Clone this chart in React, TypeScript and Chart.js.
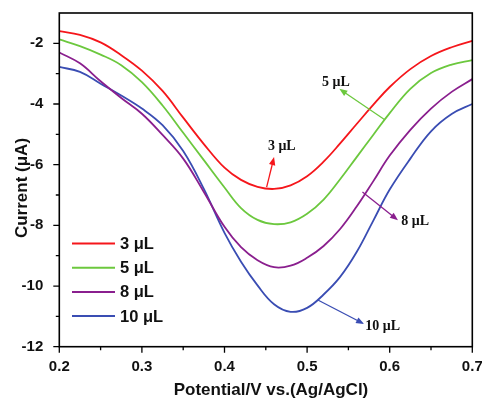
import React, { useEffect, useRef } from 'react';
import { Chart, registerables } from 'chart.js';

Chart.register(...registerables);

const potential = [0.2, 0.225, 0.25, 0.275, 0.3, 0.325, 0.35, 0.375, 0.4, 0.42, 0.44, 0.46, 0.48, 0.5, 0.52, 0.54, 0.56, 0.58, 0.6, 0.625, 0.65, 0.675, 0.7];
const current3uL = [-1.6, -1.72, -1.97, -2.39, -2.9, -3.57, -4.45, -5.32, -6.1, -6.5, -6.73, -6.8, -6.68, -6.38, -5.9, -5.3, -4.66, -4.03, -3.44, -2.85, -2.42, -2.13, -1.92];
const current5uL = [-1.87, -2.09, -2.37, -2.72, -3.28, -4.05, -4.95, -5.85, -6.75, -7.43, -7.82, -7.96, -7.9, -7.62, -7.15, -6.48, -5.75, -5.02, -4.3, -3.5, -2.98, -2.7, -2.55];
const current8uL = [-2.3, -2.66, -3.25, -3.8, -4.32, -5.02, -5.8, -6.9, -8.05, -8.72, -9.15, -9.38, -9.33, -9.07, -8.68, -8.12, -7.38, -6.55, -5.7, -4.85, -4.15, -3.6, -3.18];
const current10uL = [-2.78, -2.94, -3.33, -3.72, -4.15, -4.7, -5.55, -6.8, -8.25, -9.2, -9.98, -10.6, -10.85, -10.72, -10.28, -9.7, -8.88, -7.85, -6.82, -5.8, -4.9, -4.33, -4.0];

const seriesLabels = ['3 μL', '5 μL', '8 μL', '10 μL'];
const seriesColors = ['#f5161b', '#6cc83e', '#8a1f8e', '#3a4db3'];
const xTickValues = [0.2, 0.3, 0.4, 0.5, 0.6, 0.7];
const xMinorValues = [0.25, 0.35, 0.45, 0.55, 0.65];
const yTickValues = [-12, -10, -8, -6, -4, -2];
const yMinorValues = [-11, -9, -7, -5, -3];

// annotation arrows: [fromX, fromY, toX, toY] in data units, label anchor in data units
const annoLabels = ['3 μL', '5 μL', '8 μL', '10 μL'];
const annoFrom = [[0.451, -6.74], [0.594, -4.52], [0.567, -6.9], [0.513, -10.46]];
const annoTo = [[0.46, -5.75], [0.539, -3.5], [0.61, -7.83], [0.569, -11.25]];
const annoText = [[0.4694, -5.4], [0.535, -3.28], [0.614, -7.87], [0.5705, -11.32]];
const annoAlign = ['center', 'center', 'left', 'left'];

const SANS = '"Liberation Sans", Arial, sans-serif';
const SERIF = '"Liberation Serif", "Times New Roman", serif';

const decorPlugin = {
  id: 'decor',
  afterDraw(chart: any) {
    const { ctx, chartArea, scales } = chart;
    const { left, right, top, bottom } = chartArea;
    const xs = scales.x;
    const ys = scales.y;
    ctx.save();
    // frame
    ctx.strokeStyle = '#000';
    ctx.lineWidth = 1.6;
    ctx.strokeRect(left, top, right - left, bottom - top);
    // ticks
    ctx.lineWidth = 1.3;
    ctx.beginPath();
    xTickValues.forEach((v) => {
      const p = xs.getPixelForValue(v);
      ctx.moveTo(p, bottom);
      ctx.lineTo(p, bottom + 6);
    });
    xMinorValues.forEach((v) => {
      const p = xs.getPixelForValue(v);
      ctx.moveTo(p, bottom);
      ctx.lineTo(p, bottom + 3.5);
    });
    yTickValues.forEach((v) => {
      const p = ys.getPixelForValue(v);
      ctx.moveTo(left, p);
      ctx.lineTo(left - 6, p);
    });
    yMinorValues.forEach((v) => {
      const p = ys.getPixelForValue(v);
      ctx.moveTo(left, p);
      ctx.lineTo(left - 3.5, p);
    });
    ctx.stroke();

    // legend
    seriesLabels.forEach((lab, i) => {
      const yy = 243.5 + i * 24.2;
      ctx.strokeStyle = seriesColors[i];
      ctx.lineWidth = 2;
      ctx.beginPath();
      ctx.moveTo(72, yy);
      ctx.lineTo(115, yy);
      ctx.stroke();
      ctx.fillStyle = '#111';
      ctx.font = `bold 16.5px ${SANS}`;
      ctx.textAlign = 'left';
      ctx.textBaseline = 'middle';
      ctx.fillText(lab, 120, yy + 1);
    });

    // annotations
    annoLabels.forEach((lab, i) => {
      const x0 = xs.getPixelForValue(annoFrom[i][0]);
      const y0 = ys.getPixelForValue(annoFrom[i][1]);
      const x1 = xs.getPixelForValue(annoTo[i][0]);
      const y1 = ys.getPixelForValue(annoTo[i][1]);
      const ang = Math.atan2(y1 - y0, x1 - x0);
      const hl = 8;
      const hw = 3.2;
      ctx.strokeStyle = seriesColors[i];
      ctx.fillStyle = seriesColors[i];
      ctx.lineWidth = 1.3;
      ctx.beginPath();
      ctx.moveTo(x0, y0);
      ctx.lineTo(x1 - Math.cos(ang) * hl * 0.8, y1 - Math.sin(ang) * hl * 0.8);
      ctx.stroke();
      ctx.beginPath();
      ctx.moveTo(x1, y1);
      ctx.lineTo(x1 - Math.cos(ang) * hl + Math.sin(ang) * hw, y1 - Math.sin(ang) * hl - Math.cos(ang) * hw);
      ctx.lineTo(x1 - Math.cos(ang) * hl - Math.sin(ang) * hw, y1 - Math.sin(ang) * hl + Math.cos(ang) * hw);
      ctx.closePath();
      ctx.fill();
      ctx.fillStyle = '#111';
      ctx.font = `bold 14px ${SERIF}`;
      ctx.textAlign = annoAlign[i] as CanvasTextAlign;
      ctx.textBaseline = 'middle';
      ctx.fillText(lab, xs.getPixelForValue(annoText[i][0]), ys.getPixelForValue(annoText[i][1]));
    });

    // axis titles
    ctx.fillStyle = '#111';
    ctx.font = `bold 17px ${SANS}`;
    ctx.textAlign = 'center';
    ctx.textBaseline = 'middle';
    ctx.fillText('Potential/V vs.(Ag/AgCl)', 271, 390);
    ctx.save();
    ctx.translate(22, 188);
    ctx.rotate(-Math.PI / 2);
    ctx.fillText('Current (μA)', 0, 0);
    ctx.restore();
    ctx.restore();
  },
};

export default function App() {
  const ref = useRef<HTMLCanvasElement | null>(null);
  useEffect(() => {
    document.body.style.margin = '0';
    const series = [current3uL, current5uL, current8uL, current10uL];
    const chart = new Chart(ref.current as HTMLCanvasElement, {
      type: 'line',
      data: {
        datasets: series.map((vals, i) => ({
          label: seriesLabels[i],
          data: potential.map((x, j) => ({ x, y: vals[j] })),
          borderColor: seriesColors[i],
          backgroundColor: seriesColors[i],
          borderWidth: 1.8,
          pointRadius: 0,
          tension: 0.4,
          fill: false,
        })),
      },
      options: {
        animation: false,
        responsive: false,
        events: [],
        layout: { padding: { left: 0, top: 13, right: 9.7, bottom: 0 } },
        plugins: { legend: { display: false }, tooltip: { enabled: false } },
        scales: {
          x: {
            type: 'linear',
            min: 0.2,
            max: 0.7,
            grid: { display: false },
            border: { display: false },
            afterBuildTicks: (s: any) => {
              s.ticks = xTickValues.map((v) => ({ value: v }));
            },
            afterFit: (s: any) => {
              s.height = 51.3;
              s.paddingLeft = 0;
              s.paddingRight = 0;
            },
            ticks: {
              padding: 3,
              color: '#111',
              font: { family: SANS, size: 15, weight: 'bold' },
              callback: (v: any) => Number(v).toFixed(1),
              maxRotation: 0,
              autoSkip: false,
            },
          },
          y: {
            type: 'linear',
            min: -12,
            max: -1,
            grid: { display: false },
            border: { display: false },
            afterBuildTicks: (s: any) => {
              s.ticks = yTickValues.map((v) => ({ value: v }));
            },
            afterFit: (s: any) => {
              s.width = 59.3;
              s.paddingTop = 0;
              s.paddingBottom = 0;
            },
            ticks: {
              padding: 8,
              color: '#111',
              font: { family: SANS, size: 15, weight: 'bold' },
              callback: (v: any) => String(v),
              autoSkip: false,
            },
          },
        },
      },
      plugins: [decorPlugin],
    } as any);
    return () => chart.destroy();
  }, []);
  return (
    <div style={{ position: 'fixed', left: 0, top: 0, width: 482, height: 398, background: '#fff' }}>
      <canvas ref={ref} width={482} height={398} />
    </div>
  );
}
